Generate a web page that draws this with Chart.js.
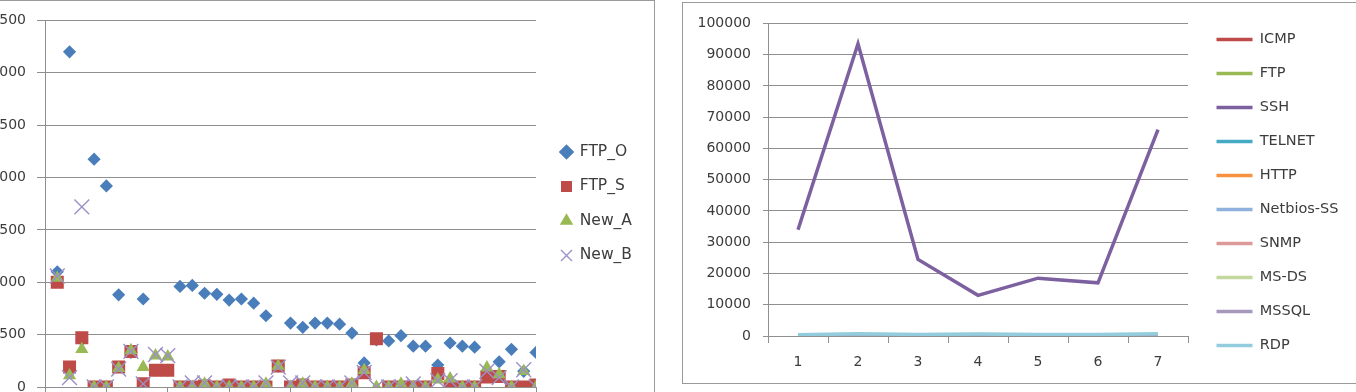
<!DOCTYPE html>
<html><head><meta charset="utf-8">
<script src="https://cdn.jsdelivr.net/npm/chart.js@4.4.1/dist/chart.umd.min.js"></script>
<style>
html,body{margin:0;padding:0;background:#fff;width:1356px;height:392px;overflow:hidden;position:relative;}
.frame{position:absolute;box-sizing:border-box;border:1px solid #9a9a9a;background:#fff;}
canvas{position:absolute;}
</style></head><body>
<div class="frame" style="left:-40px;top:0;width:695px;height:440px;"></div>
<div class="frame" style="left:682px;top:2px;width:700px;height:382px;"></div>
<canvas id="c1" width="693" height="430" style="left:-39px;top:1px;"></canvas>
<canvas id="c2" width="673" height="379" style="left:683px;top:3px;"></canvas>
<script>
// ---------- left chart data (scatter, x = 1..40) ----------
const ftpO = [1100, 3200, 450, 2175, 1920, 880, 330, 840, 160, 160, 960, 970, 895, 885, 830, 840, 800, 680, 200, 610, 570, 610, 610, 600, 515, 230, 450, 440, 490, 390, 390, 210, 420, 390, 380, 150, 240, 360, 150, 330];
const ftpS = [1000, 190, 470, 0, 0, 190, 340, 30, 160, 160, 0, 0, 10, 0, 20, 0, 0, 0, 200, 0, 20, 0, 0, 0, 20, 135, 460, 0, 0, 0, 0, 130, 0, 0, 0, 95, 100, 0, 0, 20];
const newA = [1040, 110, 360, 0, 0, 180, 350, 190, 300, 290, 0, 0, 30, 0, 0, 0, 0, 30, 200, 0, 30, 0, 0, 0, 30, 160, 0, 0, 30, 0, 0, 70, 80, 0, 0, 185, 120, 0, 150, 0];
const newB = [1060, 90, 1720, 0, 0, 170, 340, 30, 310, 300, 0, 40, 40, 0, 0, 0, 0, 40, 190, 40, 40, 0, 0, 0, 40, 140, 0, 0, 0, 30, 0, 60, 60, 0, 0, 150, 90, 0, 165, 0];
const leftSeriesNames = ['FTP_O', 'FTP_S', 'New_A', 'New_B'];
const leftYTicks = [0, 500, 1000, 1500, 2000, 2500, 3000, 3500];

// ---------- right chart data (line, categories 1..7) ----------
const categories = ['1', '2', '3', '4', '5', '6', '7'];
const icmp    = [150, 300, 200, 250, 200, 150, 300];
const ftp     = [100, 200, 150, 100, 150, 100, 200];
const ssh     = [34000, 93500, 24500, 13000, 18500, 17000, 66000];
const telnet  = [200, 400, 300, 350, 300, 250, 400];
const http    = [50, 80, 60, 70, 60, 50, 80];
const netbios = [100, 150, 120, 130, 110, 100, 150];
const snmp    = [20, 30, 20, 30, 20, 20, 30];
const msds    = [300, 500, 400, 450, 400, 350, 500];
const mssql   = [50, 70, 60, 60, 50, 50, 70];
const rdp     = [400, 700, 500, 600, 500, 450, 700];
const rightSeriesNames = ['ICMP', 'FTP', 'SSH', 'TELNET', 'HTTP', 'Netbios-SS', 'SNMP', 'MS-DS', 'MSSQL', 'RDP'];
const rightYTicks = [0, 10000, 20000, 30000, 40000, 50000, 60000, 70000, 80000, 90000, 100000];

const FONT = "'DejaVu Sans', sans-serif";
const TXT = '#3c3c3c';
const GRID = '#8f8f8f';

function legendWidth(w) {
  return { id: 'legendWidth', beforeInit(chart) {
    const orig = chart.legend.fit;
    chart.legend.fit = function () { orig.call(this); this.width = w; };
  }};
}
const byIndex = (a, b) => a.datasetIndex - b.datasetIndex;
const pts = arr => arr.map((v, i) => ({ x: i + 1, y: v }));

// ---------- left chart ----------
const leftStyles = [
  { pointStyle: 'rectRot', radius: 6.6, color: '#4A7EBB', bw: 0 },
  { pointStyle: 'rect', radius: 9.2, color: '#BE4B48', bw: 0 },
  { pointStyle: 'triangle', radius: 7.6, color: '#98B954', bw: 0 },
  { pointStyle: 'crossRot', radius: 10.5, color: '#9D90C6', bw: 1.4 }
];
const leftData = [ftpO, ftpS, newA, newB];
new Chart(document.getElementById('c1'), {
  type: 'scatter',
  data: {
    datasets: leftData.map((arr, k) => ({
      label: leftSeriesNames[k],
      data: pts(arr),
      order: 4 - k,
      pointStyle: leftStyles[k].pointStyle,
      pointRadius: leftStyles[k].radius,
      pointHoverRadius: leftStyles[k].radius,
      backgroundColor: leftStyles[k].color,
      borderColor: leftStyles[k].color,
      pointBorderWidth: leftStyles[k].bw,
      borderWidth: leftStyles[k].bw,
      showLine: false
    }))
  },
  options: {
    responsive: false, animation: false, devicePixelRatio: 1,
    layout: { padding: { top: 19, left: 0, right: 0, bottom: 0 } },
    plugins: {
      tooltip: { enabled: false },
      legend: {
        position: 'right', fullSize: false,
        labels: { usePointStyle: true, boxWidth: 11, boxHeight: 11, padding: 19, sort: byIndex,
                  color: TXT, font: { family: FONT, size: 15.5 } }
      }
    },
    scales: {
      x: {
        type: 'linear', min: 0, max: 40,
        afterFit: s => { s.height = 44; },
        grid: { display: true, drawOnChartArea: false, drawTicks: true, tickLength: 6, color: GRID },
        border: { display: true, color: GRID },
        ticks: { stepSize: 5, color: TXT, font: { family: FONT, size: 14 } }
      },
      y: {
        min: 0, max: 3500,
        afterFit: s => { s.width = 84; },
        afterBuildTicks: s => { s.ticks = leftYTicks.map(v => ({ value: v })); },
        grid: { color: GRID, tickLength: 8, drawTicks: true },
        border: { display: true, color: GRID },
        ticks: { padding: 11, color: TXT, font: { family: FONT, size: 14 }, callback: v => String(v) }
      },
      pad: {
        type: 'linear', position: 'right', display: true,
        afterFit: s => { s.width = 6; },
        grid: { display: false }, border: { display: false }, ticks: { display: false }
      }
    }
  },
  plugins: [legendWidth(112)]
});

// ---------- right chart ----------
const rightColors = ['#BE4B48', '#98B954', '#7D60A0', '#46AAC5', '#F69240', '#8EB1DE', '#DB9A98', '#C2D89E', '#A699BC', '#93CDDD'];
const rightData = [icmp, ftp, ssh, telnet, http, netbios, snmp, msds, mssql, rdp];
new Chart(document.getElementById('c2'), {
  type: 'line',
  data: {
    labels: categories,
    datasets: rightData.map((arr, k) => ({
      label: rightSeriesNames[k],
      data: arr,
      order: 10 - k,
      borderColor: rightColors[k],
      backgroundColor: rightColors[k],
      borderWidth: 3.5,
      pointRadius: 0, pointHoverRadius: 0,
      tension: 0, fill: false
    }))
  },
  options: {
    responsive: false, animation: false, devicePixelRatio: 1,
    layout: { padding: 0 },
    plugins: {
      tooltip: { enabled: false },
      legend: {
        position: 'right', fullSize: true,
        labels: {
          boxWidth: 36, boxHeight: 3.5, padding: 19.5, color: TXT, sort: byIndex,
          font: { family: FONT, size: 14.5 },
          generateLabels: chart => Chart.defaults.plugins.legend.labels.generateLabels(chart).map(l => ({ ...l, lineWidth: 0 }))
        }
      }
    },
    scales: {
      x: {
        offset: true,
        afterFit: s => { s.height = 46; },
        grid: { display: true, drawOnChartArea: false, drawTicks: true, tickLength: 7, offset: true, color: GRID },
        border: { display: true, color: GRID },
        ticks: { padding: 11, color: TXT, font: { family: FONT, size: 14 } }
      },
      y: {
        min: 0, max: 100000,
        afterFit: s => { s.width = 85; },
        afterBuildTicks: s => { s.ticks = rightYTicks.map(v => ({ value: v })); },
        grid: { color: GRID, tickLength: 5, drawTicks: true },
        border: { display: true, color: GRID },
        ticks: { padding: 12, color: TXT, font: { family: FONT, size: 14 }, callback: v => String(v) }
      },
      padTop: {
        type: 'category', position: 'top', display: true,
        afterFit: s => { s.height = 19; },
        grid: { display: false }, border: { display: false }, ticks: { display: false }
      },
      pad: {
        type: 'linear', position: 'right', display: true,
        afterFit: s => { s.width = 9; },
        grid: { display: false }, border: { display: false }, ticks: { display: false }
      }
    }
  },
  plugins: [legendWidth(159)]
});
</script>
</body></html>
